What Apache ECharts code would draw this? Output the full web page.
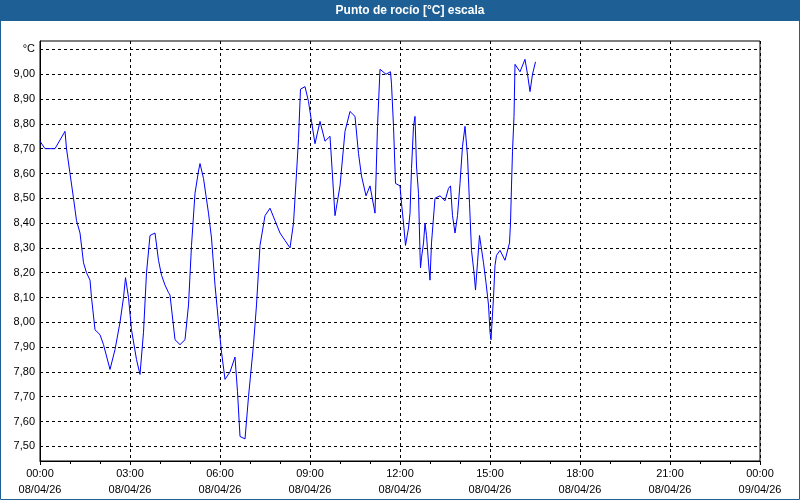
<!DOCTYPE html>
<html><head><meta charset="utf-8">
<script src="https://cdn.jsdelivr.net/npm/echarts@6/dist/echarts.min.js"></script>
<style>html,body{margin:0;padding:0;background:#fff}#c{width:800px;height:500px}</style>
</head><body><div id="c"></div>
<script>
const chartTitle = 'Punto de rocío [°C] escala';
const dateLabel = '08/04/26';
const nextDateLabel = '09/04/26';
const times = ['00:00','00:10','00:30','00:50','00:53','01:00','01:07','01:13','01:20','01:27','01:33','01:40','01:43','01:50','02:00','02:07','02:20','02:30','02:40','02:47','02:51','02:57','03:03','03:13','03:20','03:27','03:33','03:40','03:50','03:57','04:03','04:10','04:17','04:20','04:30','04:40','04:50','04:57','05:03','05:10','05:17','05:20','05:27','05:37','05:43','05:50','05:57','06:03','06:10','06:20','06:30','06:35','06:40','06:50','06:57','07:07','07:13','07:20','07:30','07:40','07:50','08:00','08:10','08:20','08:27','08:33','08:37','08:41','08:50','08:57','09:03','09:10','09:20','09:30','09:40','09:45','09:50','10:00','10:10','10:20','10:30','10:37','10:43','10:52','11:00','11:10','11:15','11:20','11:32','11:41','11:43','11:47','11:51','12:00','12:03','12:07','12:11','12:17','12:20','12:23','12:27','12:30','12:33','12:37','12:40','12:41','12:43','12:47','12:50','12:53','12:57','13:00','13:03','13:10','13:20','13:30','13:37','13:41','13:45','13:50','13:55','14:00','14:05','14:10','14:15','14:19','14:23','14:28','14:31','14:35','14:39','14:42','14:47','14:52','14:57','15:00','15:02','15:04','15:07','15:10','15:13','15:20','15:30','15:39','15:41','15:43','15:45','15:48','15:50','16:00','16:10','16:15','16:20','16:25','16:31'];
const dewPoint = [8.73,8.70,8.70,8.77,8.70,8.60,8.50,8.41,8.36,8.24,8.20,8.17,8.10,7.97,7.95,7.91,7.81,7.89,8.00,8.10,8.18,8.10,7.97,7.85,7.79,7.96,8.20,8.35,8.36,8.25,8.19,8.15,8.12,8.11,7.93,7.91,7.93,8.07,8.31,8.52,8.61,8.64,8.58,8.44,8.34,8.15,8.00,7.88,7.77,7.80,7.86,7.72,7.54,7.53,7.70,7.91,8.07,8.31,8.43,8.46,8.41,8.36,8.33,8.30,8.40,8.60,8.74,8.94,8.95,8.89,8.81,8.72,8.81,8.73,8.75,8.59,8.43,8.55,8.77,8.85,8.83,8.68,8.59,8.51,8.55,8.44,8.79,9.02,9.00,9.01,8.96,8.79,8.56,8.55,8.48,8.40,8.31,8.38,8.44,8.62,8.79,8.83,8.63,8.52,8.28,8.22,8.26,8.32,8.40,8.35,8.24,8.17,8.32,8.50,8.51,8.49,8.54,8.55,8.43,8.36,8.43,8.56,8.71,8.79,8.67,8.48,8.29,8.20,8.13,8.24,8.35,8.35,8.24,8.16,8.07,7.96,7.93,8.00,8.10,8.23,8.27,8.29,8.25,8.32,8.40,8.55,8.69,8.83,9.04,9.01,9.06,9.00,8.93,9.00,9.05];
const yTicks = [7.5,7.6,7.7,7.8,7.9,8.0,8.1,8.2,8.3,8.4,8.5,8.6,8.7,8.8,8.9,9.0,9.1];

const toMin = t => { const p = t.split(':'); return (+p[0])*60 + (+p[1]); };
const data = times.map((t,i) => [toMin(t), dewPoint[i]]);
const pad = n => String(n).padStart(2,'0');

const chart = echarts.init(document.getElementById('c'), null, {renderer:'canvas'});
const blue = '#1e6096';
const labelFont = '"Liberation Sans", Tahoma, sans-serif';
chart.setOption({
  backgroundColor: '#ffffff',
  animation: false,
  graphic: [
    {type:'rect', shape:{x:0,y:0,width:800,height:21}, style:{fill:blue}, z:10},
    {type:'rect', shape:{x:0.5,y:0.5,width:799,height:499}, style:{fill:'none', stroke:blue, lineWidth:1}, z:10},
    {type:'text', x:410, y:10.5, style:{text:chartTitle, fill:'#ffffff', font:'bold 12px "Liberation Sans", Arial, sans-serif', align:'center', verticalAlign:'middle'}, z:11}
  ],
  grid: {left:40, right:40, top:41, bottom:39, show:true, borderColor:'#000', borderWidth:1, backgroundColor:'#fff'},
  xAxis: {
    type:'value', min:0, max:1440, interval:180,
    axisLine:{show:true, lineStyle:{color:'#000', width:1}},
    axisTick:{show:true, length:4, lineStyle:{color:'#000'}},
    minorTick:{show:true, splitNumber:3, length:3, lineStyle:{color:'#000'}},
    splitLine:{show:true, lineStyle:{color:'#000', type:[3,3], width:1}},
    axisLabel:{
      color:'#000', fontSize:11, fontFamily:labelFont, margin:5, lineHeight:16,
      showMinLabel:true, showMaxLabel:true,
      formatter: v => { const h = Math.floor(v/60)%24, m = v%60; return pad(h)+':'+pad(m)+'\n'+(v>=1440?nextDateLabel:dateLabel); }
    }
  },
  yAxis: {
    type:'value', min:7.441, max:9.134,
    axisLine:{show:true, lineStyle:{color:'#000', width:1}},
    axisTick:{show:false, customValues:yTicks},
    splitLine:{show:true, lineStyle:{color:'#000', type:[3,3], width:1}},
    axisLabel:{
      customValues:yTicks, color:'#000', fontSize:11, fontFamily:labelFont, margin:5,
      formatter: v => Math.abs(v-9.1)<1e-6 ? '°C' : v.toFixed(2).replace('.', ',')
    }
  },
  series: [{
    type:'line', data:data, showSymbol:false, symbol:'none',
    lineStyle:{color:'#0000ff', width:1}, itemStyle:{color:'#0000ff'}
  }]
});
</script></body></html>
